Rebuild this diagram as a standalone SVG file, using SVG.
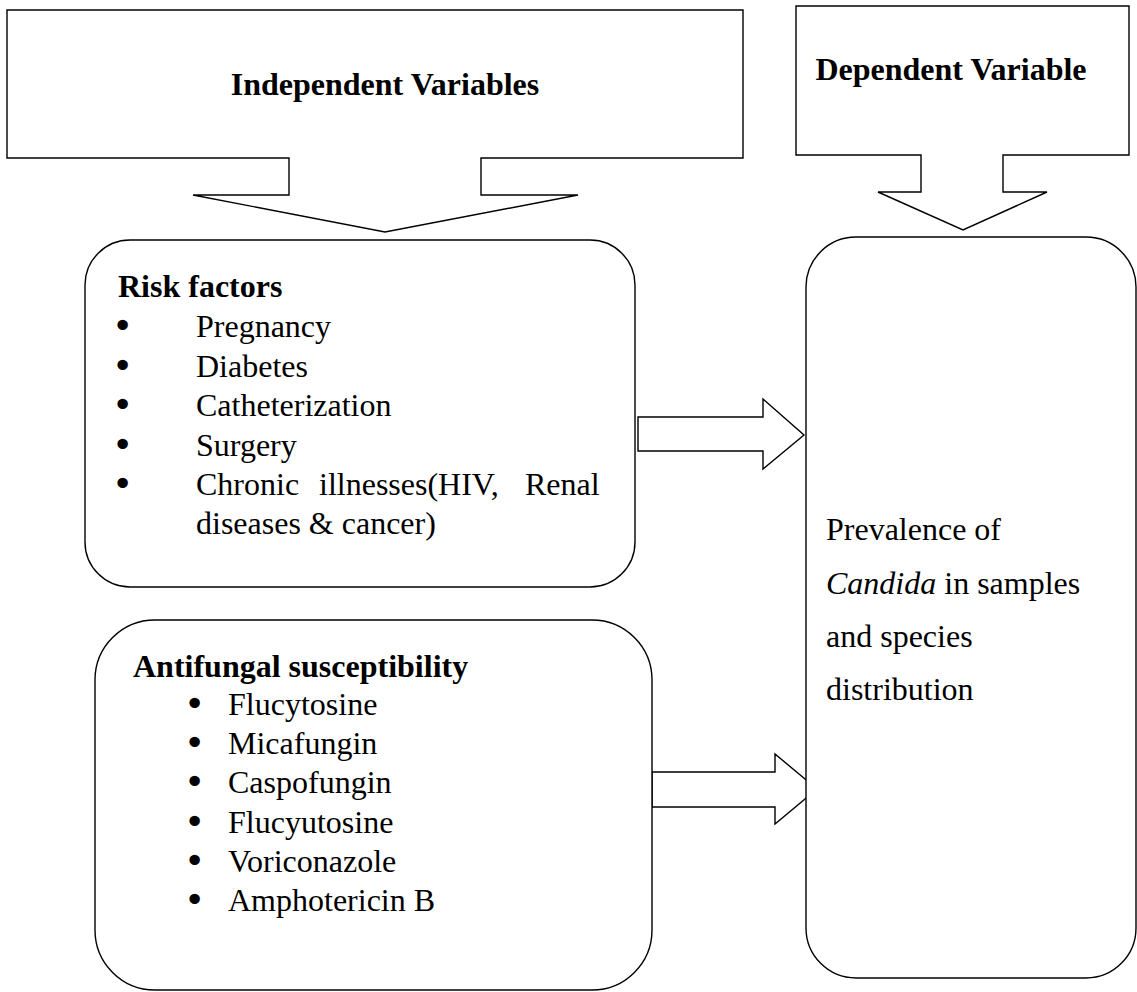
<svg xmlns="http://www.w3.org/2000/svg" width="1137" height="992" viewBox="0 0 1137 992">
<style>
.sh{fill:#fff;stroke:#000;stroke-width:1.4;stroke-linejoin:miter}
.t{font-family:"Liberation Serif","Times New Roman",serif;font-size:32px;fill:#000}
.b{font-weight:bold}
.i{font-style:italic}
.bu{font-family:"DejaVu Sans",sans-serif;font-size:36px;fill:#000}
</style>
<rect width="1137" height="992" fill="#fff"/>
<g id="connectors">
<polygon class="sh" points="638,417 763,417 763,399 804,435 763,469 763,451 638,451"/>
<polygon class="sh" points="652,772 775,772 775,754 817,789 775,824 775,807 652,807"/>
</g>
<g id="independent-variables">
<polygon class="sh" points="7,10 743,10 743,158 481,158 481,195 578,195 385,232 193,195 289,195 289,158 7,158"/>
<text class="t b" x="385" y="95" text-anchor="middle">Independent Variables</text>
</g>
<g id="dependent-variable">
<polygon class="sh" points="796,6 1129,6 1129,155 1003,155 1003,192 1047,192 963,230 878,192 921,192 921,155 796,155"/>
<text class="t b" x="951" y="80" text-anchor="middle">Dependent Variable</text>
</g>
<g id="risk-factors">
<rect class="sh" x="85" y="240" width="550" height="347" rx="45" ry="45"/>
<text class="t b" x="118" y="297">Risk factors</text>
<text class="bu" x="112" y="338">•</text><text class="t" x="196" y="337">Pregnancy</text>
<text class="bu" x="112" y="378">•</text><text class="t" x="196" y="377">Diabetes</text>
<text class="bu" x="112" y="417">•</text><text class="t" x="196" y="416">Catheterization</text>
<text class="bu" x="112" y="457">•</text><text class="t" x="196" y="456">Surgery</text>
<text class="bu" x="112" y="496">•</text><text class="t" y="495"><tspan x="196">Chronic</tspan><tspan x="319">illnesses(HIV,</tspan><tspan x="525">Renal</tspan></text>
<text class="t" x="196" y="534">diseases &amp; cancer)</text>
</g>
<g id="antifungal-susceptibility">
<rect class="sh" x="95" y="620" width="557" height="370" rx="60" ry="60"/>
<text class="t b" x="133" y="677">Antifungal susceptibility</text>
<text class="bu" x="184" y="716">•</text><text class="t" x="228" y="715">Flucytosine</text>
<text class="bu" x="184" y="755">•</text><text class="t" x="228" y="754">Micafungin</text>
<text class="bu" x="184" y="794">•</text><text class="t" x="228" y="793">Caspofungin</text>
<text class="bu" x="184" y="834">•</text><text class="t" x="228" y="833">Flucyutosine</text>
<text class="bu" x="184" y="873">•</text><text class="t" x="228" y="872">Voriconazole</text>
<text class="bu" x="184" y="912">•</text><text class="t" x="228" y="911">Amphotericin B</text>
</g>
<g id="prevalence">
<rect class="sh" x="806" y="237" width="330" height="741" rx="50" ry="50"/>
<text class="t" x="826" y="540">Prevalence of</text>
<text class="t" x="826" y="594"><tspan class="i">Candida</tspan> in samples</text>
<text class="t" x="826" y="647">and species</text>
<text class="t" x="826" y="700">distribution</text>
</g>
</svg>
